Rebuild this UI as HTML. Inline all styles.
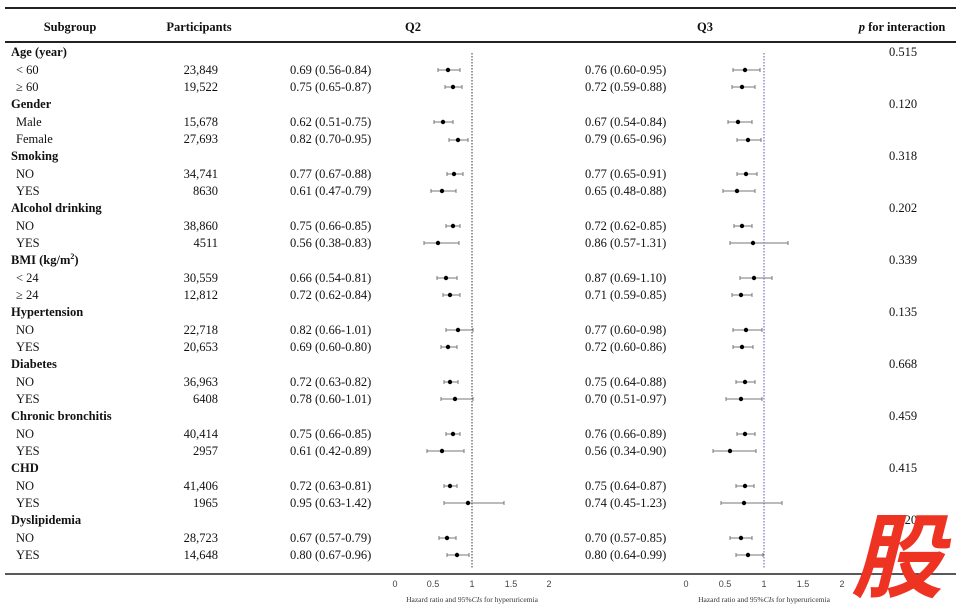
<!DOCTYPE html>
<html><head><meta charset="utf-8"><style>
body{margin:0;background:#fff;}
svg{display:block;font-family:"Liberation Serif",serif;}
.t{font-size:12.5px;fill:#111;}
.b{font-size:12.5px;font-weight:bold;fill:#111;}
.ci{stroke:#777;stroke-width:1;}
.ax{font-size:9px;fill:#444;font-family:"Liberation Sans",sans-serif;}
.at{font-size:7.5px;fill:#333;}
</style></head><body>
<svg width="960" height="608" viewBox="0 0 960 608">
<line x1="5" y1="8" x2="956" y2="8" stroke="#222" stroke-width="2"/>
<line x1="5" y1="42" x2="956" y2="42" stroke="#222" stroke-width="2"/>
<line x1="5" y1="574" x2="956" y2="574" stroke="#222" stroke-width="1.5"/>
<text class="b" x="70" y="31" text-anchor="middle">Subgroup</text>
<text class="b" x="199" y="31" text-anchor="middle">Participants</text>
<text class="b" x="413" y="31" text-anchor="middle">Q2</text>
<text class="b" x="705" y="31" text-anchor="middle">Q3</text>
<text class="b" x="902" y="31" text-anchor="middle"><tspan font-style="italic">p</tspan>  for interaction</text>
<line x1="472" y1="53" x2="472" y2="568" stroke="#333" stroke-dasharray="1.5,1.5"/>
<line x1="764" y1="53" x2="764" y2="568" stroke="#55a" stroke-dasharray="1.5,1.5"/>
<g class="b">
<text x="11" y="56">Age (year)</text>
<text x="11" y="108">Gender</text>
<text x="11" y="160">Smoking</text>
<text x="11" y="212">Alcohol drinking</text>
<text x="11" y="264">BMI (kg/m<tspan font-size="8" dy="-5">2</tspan><tspan dy="5">)</tspan></text>
<text x="11" y="316">Hypertension</text>
<text x="11" y="368">Diabetes</text>
<text x="11" y="420">Chronic bronchitis</text>
<text x="11" y="472">CHD</text>
<text x="11" y="524">Dyslipidemia</text>
</g>
<g class="t" text-anchor="middle">
<text x="903" y="56">0.515</text>
<text x="903" y="108">0.120</text>
<text x="903" y="160">0.318</text>
<text x="903" y="212">0.202</text>
<text x="903" y="264">0.339</text>
<text x="903" y="316">0.135</text>
<text x="903" y="368">0.668</text>
<text x="903" y="420">0.459</text>
<text x="903" y="472">0.415</text>
<text x="903" y="524">0.320</text>
</g>
<g class="t">
<text x="16" y="74">&lt; 60</text><text x="16" y="91">≥ 60</text>
<text x="16" y="126">Male</text><text x="16" y="143">Female</text>
<text x="16" y="178">NO</text><text x="16" y="195">YES</text>
<text x="16" y="230">NO</text><text x="16" y="247">YES</text>
<text x="16" y="282">&lt; 24</text><text x="16" y="299">≥ 24</text>
<text x="16" y="334">NO</text><text x="16" y="351">YES</text>
<text x="16" y="386">NO</text><text x="16" y="403">YES</text>
<text x="16" y="438">NO</text><text x="16" y="455">YES</text>
<text x="16" y="490">NO</text><text x="16" y="507">YES</text>
<text x="16" y="542">NO</text><text x="16" y="559">YES</text>
</g>
<g class="t" text-anchor="end">
<text x="218" y="74">23,849</text><text x="218" y="91">19,522</text>
<text x="218" y="126">15,678</text><text x="218" y="143">27,693</text>
<text x="218" y="178">34,741</text><text x="218" y="195">8630</text>
<text x="218" y="230">38,860</text><text x="218" y="247">4511</text>
<text x="218" y="282">30,559</text><text x="218" y="299">12,812</text>
<text x="218" y="334">22,718</text><text x="218" y="351">20,653</text>
<text x="218" y="386">36,963</text><text x="218" y="403">6408</text>
<text x="218" y="438">40,414</text><text x="218" y="455">2957</text>
<text x="218" y="490">41,406</text><text x="218" y="507">1965</text>
<text x="218" y="542">28,723</text><text x="218" y="559">14,648</text>
</g>
<g class="t">
<text x="290" y="74">0.69 (0.56-0.84)</text><text x="290" y="91">0.75 (0.65-0.87)</text>
<text x="290" y="126">0.62 (0.51-0.75)</text><text x="290" y="143">0.82 (0.70-0.95)</text>
<text x="290" y="178">0.77 (0.67-0.88)</text><text x="290" y="195">0.61 (0.47-0.79)</text>
<text x="290" y="230">0.75 (0.66-0.85)</text><text x="290" y="247">0.56 (0.38-0.83)</text>
<text x="290" y="282">0.66 (0.54-0.81)</text><text x="290" y="299">0.72 (0.62-0.84)</text>
<text x="290" y="334">0.82 (0.66-1.01)</text><text x="290" y="351">0.69 (0.60-0.80)</text>
<text x="290" y="386">0.72 (0.63-0.82)</text><text x="290" y="403">0.78 (0.60-1.01)</text>
<text x="290" y="438">0.75 (0.66-0.85)</text><text x="290" y="455">0.61 (0.42-0.89)</text>
<text x="290" y="490">0.72 (0.63-0.81)</text><text x="290" y="507">0.95 (0.63-1.42)</text>
<text x="290" y="542">0.67 (0.57-0.79)</text><text x="290" y="559">0.80 (0.67-0.96)</text>
<text x="585" y="74">0.76 (0.60-0.95)</text><text x="585" y="91">0.72 (0.59-0.88)</text>
<text x="585" y="126">0.67 (0.54-0.84)</text><text x="585" y="143">0.79 (0.65-0.96)</text>
<text x="585" y="178">0.77 (0.65-0.91)</text><text x="585" y="195">0.65 (0.48-0.88)</text>
<text x="585" y="230">0.72 (0.62-0.85)</text><text x="585" y="247">0.86 (0.57-1.31)</text>
<text x="585" y="282">0.87 (0.69-1.10)</text><text x="585" y="299">0.71 (0.59-0.85)</text>
<text x="585" y="334">0.77 (0.60-0.98)</text><text x="585" y="351">0.72 (0.60-0.86)</text>
<text x="585" y="386">0.75 (0.64-0.88)</text><text x="585" y="403">0.70 (0.51-0.97)</text>
<text x="585" y="438">0.76 (0.66-0.89)</text><text x="585" y="455">0.56 (0.34-0.90)</text>
<text x="585" y="490">0.75 (0.64-0.87)</text><text x="585" y="507">0.74 (0.45-1.23)</text>
<text x="585" y="542">0.70 (0.57-0.85)</text><text x="585" y="559">0.80 (0.64-0.99)</text>
</g>
<g class="ci" fill="none">
<!-- Q2: x=395+77v ; Q3: x=686+78v -->
<path d="M438,70H460M438,68v4M460,68v4"/><path d="M445,87H462M445,85v4M462,85v4"/>
<path d="M434,122H453M434,120v4M453,120v4"/><path d="M449,140H468M449,138v4M468,138v4"/>
<path d="M447,174H463M447,172v4M463,172v4"/><path d="M431,191H456M431,189v4M456,189v4"/>
<path d="M446,226H460M446,224v4M460,224v4"/><path d="M424,243H459M424,241v4M459,241v4"/>
<path d="M437,278H457M437,276v4M457,276v4"/><path d="M443,295H460M443,293v4M460,293v4"/>
<path d="M446,330H473M446,328v4M473,328v4"/><path d="M441,347H457M441,345v4M457,345v4"/>
<path d="M444,382H458M444,380v4M458,380v4"/><path d="M441,399H473M441,397v4M473,397v4"/>
<path d="M446,434H460M446,432v4M460,432v4"/><path d="M427,451H464M427,449v4M464,449v4"/>
<path d="M444,486H457M444,484v4M457,484v4"/><path d="M444,503H504M444,501v4M504,501v4"/>
<path d="M439,538H456M439,536v4M456,536v4"/><path d="M447,555H469M447,553v4M469,553v4"/>
<path d="M733,70H760M733,68v4M760,68v4"/><path d="M732,87H755M732,85v4M755,85v4"/>
<path d="M728,122H752M728,120v4M752,120v4"/><path d="M737,140H761M737,138v4M761,138v4"/>
<path d="M737,174H757M737,172v4M757,172v4"/><path d="M723,191H755M723,189v4M755,189v4"/>
<path d="M734,226H752M734,224v4M752,224v4"/><path d="M730,243H788M730,241v4M788,241v4"/>
<path d="M740,278H772M740,276v4M772,276v4"/><path d="M732,295H752M732,293v4M752,293v4"/>
<path d="M733,330H762M733,328v4M762,328v4"/><path d="M733,347H753M733,345v4M753,345v4"/>
<path d="M736,382H755M736,380v4M755,380v4"/><path d="M726,399H762M726,397v4M762,397v4"/>
<path d="M737,434H755M737,432v4M755,432v4"/><path d="M713,451H756M713,449v4M756,449v4"/>
<path d="M736,486H754M736,484v4M754,484v4"/><path d="M721,503H782M721,501v4M782,501v4"/>
<path d="M730,538H752M730,536v4M752,536v4"/><path d="M736,555H763M736,553v4M763,553v4"/>
</g>
<g fill="#000">
<circle cx="448" cy="70" r="2.2"/><circle cx="453" cy="87" r="2.2"/><circle cx="443" cy="122" r="2.2"/><circle cx="458" cy="140" r="2.2"/>
<circle cx="454" cy="174" r="2.2"/><circle cx="442" cy="191" r="2.2"/><circle cx="453" cy="226" r="2.2"/><circle cx="438" cy="243" r="2.2"/>
<circle cx="446" cy="278" r="2.2"/><circle cx="450" cy="295" r="2.2"/><circle cx="458" cy="330" r="2.2"/><circle cx="448" cy="347" r="2.2"/>
<circle cx="450" cy="382" r="2.2"/><circle cx="455" cy="399" r="2.2"/><circle cx="453" cy="434" r="2.2"/><circle cx="442" cy="451" r="2.2"/>
<circle cx="450" cy="486" r="2.2"/><circle cx="468" cy="503" r="2.2"/><circle cx="447" cy="538" r="2.2"/><circle cx="457" cy="555" r="2.2"/>
<circle cx="745" cy="70" r="2.2"/><circle cx="742" cy="87" r="2.2"/><circle cx="738" cy="122" r="2.2"/><circle cx="748" cy="140" r="2.2"/>
<circle cx="746" cy="174" r="2.2"/><circle cx="737" cy="191" r="2.2"/><circle cx="742" cy="226" r="2.2"/><circle cx="753" cy="243" r="2.2"/>
<circle cx="754" cy="278" r="2.2"/><circle cx="741" cy="295" r="2.2"/><circle cx="746" cy="330" r="2.2"/><circle cx="742" cy="347" r="2.2"/>
<circle cx="745" cy="382" r="2.2"/><circle cx="741" cy="399" r="2.2"/><circle cx="745" cy="434" r="2.2"/><circle cx="730" cy="451" r="2.2"/>
<circle cx="745" cy="486" r="2.2"/><circle cx="744" cy="503" r="2.2"/><circle cx="741" cy="538" r="2.2"/><circle cx="748" cy="555" r="2.2"/>
</g>
<g class="ax" text-anchor="middle">
<text x="395" y="587">0</text><text x="433" y="587">0.5</text><text x="472" y="587">1</text><text x="511" y="587">1.5</text><text x="549" y="587">2</text>
<text x="686" y="587">0</text><text x="725" y="587">0.5</text><text x="764" y="587">1</text><text x="803" y="587">1.5</text><text x="842" y="587">2</text>
</g>
<text class="at" x="472" y="602" text-anchor="middle">Hazard ratio and 95%<tspan font-style="italic">CIs</tspan> for hyperuricemia</text>
<text class="at" x="764" y="602" text-anchor="middle">Hazard ratio and 95%<tspan font-style="italic">CIs</tspan> for hyperuricemia</text>
<text x="897" y="590" text-anchor="middle" font-family="'Noto Sans CJK SC',sans-serif" font-size="92" font-weight="bold" fill="#ee3322" font-style="italic">股</text>
</svg>
</body></html>
